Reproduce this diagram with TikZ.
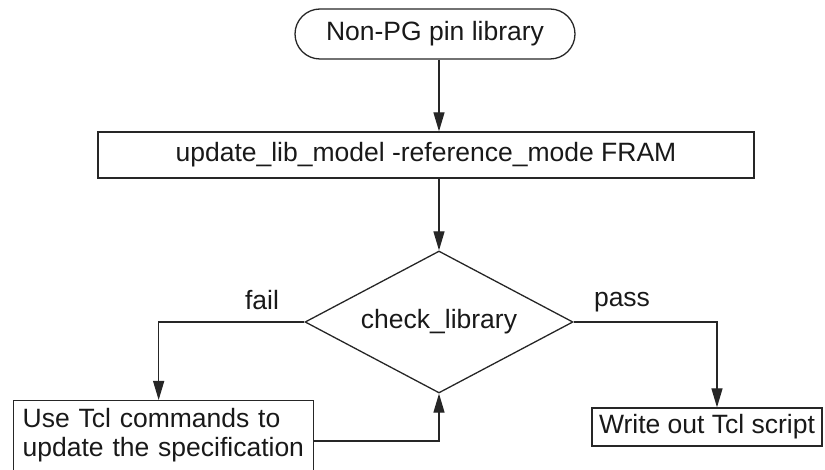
\documentclass[tikz,border=0pt]{standalone}
\usepackage{fontspec}
\setmainfont{Liberation Sans}
\usetikzlibrary{shapes.geometric,arrows.meta}
\begin{document}
\begin{tikzpicture}[x=1pt,y=-1pt,
  font=\fontsize{26.5}{28.5}\selectfont,
  line width=1.3pt,
  every node/.style={text=black!90},
  boxst/.style={draw=black!85, rectangle, inner sep=0pt},
  arr/.style={draw=black!85, -{Triangle[length=19pt,width=11pt]}}]
\useasboundingbox (0,0) rectangle (825,470);
\clip (0,0) rectangle (825,470);
\node[boxst, rounded corners=25pt, minimum width=280pt, minimum height=50pt] (term) at (435,34) {Non-PG pin library\hspace{20pt}};
\node[boxst, minimum width=656pt, minimum height=46pt] (cmd) at (426,155) {update\_lib\_model -reference\_mode FRAM};
\node[draw=black!85, diamond, inner sep=0pt, minimum width=268pt, minimum height=142pt, shape aspect=1.89] (dia) at (439,322) {check\_library};
\node[boxst, anchor=north west, minimum width=300pt, text width=282pt, align=left, inner xsep=9pt, inner ysep=7pt] (fix) at (13,400) {\strut Use Tcl commands to\\update the specification\strut};
\coordinate (fixout) at ([yshift=-41pt]fix.north east);
\node[boxst, minimum width=230pt, minimum height=38pt] (out) at (707,427) {Write out Tcl script};
\node[anchor=base] (fail) at (262,310) {fail};
\node[anchor=base] (pass) at (622,307) {pass};
\draw[arr] (term.south -| dia.north) -- (cmd.north -| dia.north);
\draw[arr] (cmd.south -| dia.north) -- (dia.north);
\draw[arr] (dia.west) -| ([xshift=-5pt]fix.north);
\draw[arr] (fixout) -| (dia.south);
\draw[arr] (dia.east) -| ([xshift=10pt]out.north);
\end{tikzpicture}
\end{document}
